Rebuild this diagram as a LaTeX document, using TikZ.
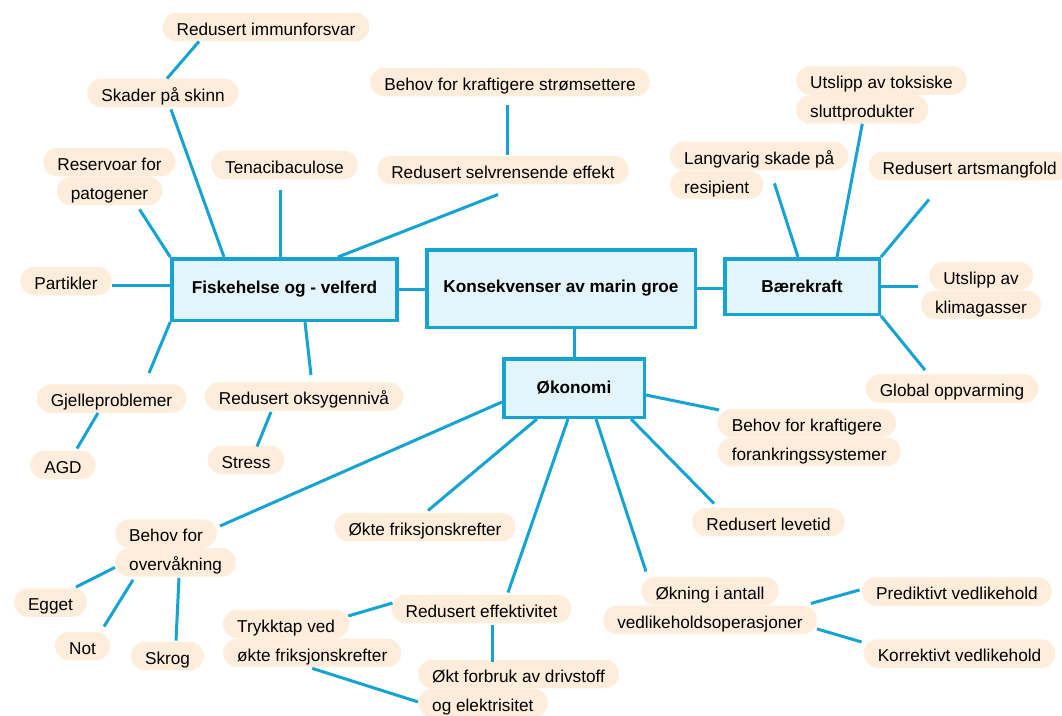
\documentclass[tikz,border=0pt]{standalone}
\usepackage{fontspec}
\setmainfont{Liberation Sans}
\usetikzlibrary{positioning}
\definecolor{groeblue}{RGB}{20,163,210}
\definecolor{groebox}{RGB}{227,244,250}
\definecolor{groepill}{RGB}{253,237,218}
\tikzset{
	pill/.style={fill=groepill, rounded corners=14pt, inner xsep=14pt, inner ysep=0pt, minimum height=28.5pt, text height=20pt, text depth=3.6pt, font=\fontsize{17.2}{20}\selectfont},
	hub/.style={draw=groeblue, line width=3.5pt, fill=groebox, font=\bfseries\fontsize{17.2}{20}\selectfont},
	link/.style={draw=groeblue, line width=3pt},
}

\begin{document}
\begin{tikzpicture}[x=1pt, y=-1pt]
		%%%%% START %%%%%
		\useasboundingbox (0, 0) rectangle (1062, 715);
		
		\node[hub, minimum width=268.5pt, minimum height=77.5pt] (cent) at (561, 288.5) {Konsekvenser av marin groe};
		\node[hub, minimum width=225pt, minimum height=61.5pt] (fisk) at (284.5, 289.5) {Fiskehelse og - velferd};
		\node[hub, minimum width=154.5pt, minimum height=55.5pt] (baer) at (802, 286.5) {Bærekraft};
		\node[hub, minimum width=140.5pt, minimum height=58.5pt] (oko) at (574, 388) {Økonomi};
		
		%%%%% FISKEHELSE %%%%%
		\node[pill] (immun) at (266, 27) {Redusert immunforsvar};
		\node[pill] (skader) at (163, 93) {Skader på skinn};
		\node[pill] (res1) at (109.5, 162) {Reservoar for};
		\node[pill, below=0pt of res1] (res2) {patogener};
		\node[pill] (tena) at (284.5, 165) {Tenacibaculose};
		\node[pill] (part) at (66, 281) {Partikler};
		\node[pill] (gjelle) at (111.5, 398.5) {Gjelleproblemer};
		\node[pill] (agd) at (63, 465) {AGD};
		\node[pill] (oksy) at (304, 396.5) {Redusert oksygennivå};
		\node[pill] (stress) at (246, 460) {Stress};
		
		\draw[link] ([xshift=-67pt]immun.south) -- ([xshift=4pt]skader.north);
		\draw[link] ([xshift=8pt, yshift=-2pt]skader.south) -- ([xshift=-60.5pt]fisk.north);
		\draw[link] ([xshift=30pt, yshift=-4pt]res2.south) -- (fisk.north west);
		\draw[link] ([xshift=-4.5pt, yshift=-11pt]tena.south) -- ([xshift=-4.5pt]fisk.north);
		\draw[link] ([yshift=-4pt]part.east) -- ([yshift=4.5pt]fisk.west);
		\draw[link] (fisk.south west) -- ([xshift=37.5pt, yshift=11pt]gjelle.north);
		\draw[link] ([xshift=-13.5pt]gjelle.south) -- ([xshift=14pt, yshift=2pt]agd.north);
		\draw[link] ([xshift=20.5pt]fisk.south) -- ([xshift=7pt, yshift=7pt]oksy.north);
		\draw[link] ([xshift=-33pt, yshift=-1pt]oksy.south) -- ([xshift=11pt, yshift=-1pt]stress.north);
		
		%%%%% MIDT %%%%%
		\node[pill] (strom) at (510, 82) {Behov for kraftigere strømsettere};
		\node[pill] (selv) at (503, 170) {Redusert selvrensende effekt};
		
		\draw[link] ([xshift=-3pt, yshift=-9pt]strom.south) -- ([xshift=4pt, yshift=1pt]selv.north);
		\draw[link] ([xshift=-5pt, yshift=-10pt]selv.south) -- ([xshift=53.5pt]fisk.north);
		\draw[link] (fisk.east) -- (fisk.east -| cent.west);
		\draw[link] (cent.east) -- (cent.east -| baer.west);
		\draw[link] (oko.north |- cent.south) -- (oko.north);
		
		%%%%% BAEREKRAFT %%%%%
		\node[pill, anchor=west] (tox1) at (796, 80.5) {Utslipp av toksiske};
		\node[pill, anchor=north west] (tox2) at (tox1.south west) {sluttprodukter};
		\node[pill, anchor=west] (lang1) at (670, 156) {Langvarig skade på};
		\node[pill, anchor=north west] (lang2) at (lang1.south west) {resipient};
		\node[pill, anchor=west] (arts) at (868.5, 166) {Redusert artsmangfold};
		\node[pill] (klim1) at (981, 276) {Utslipp av};
		\node[pill, below=0pt of klim1] (klim2) {klimagasser};
		\node[pill] (glob) at (952, 388.5) {Global oppvarming};
		
		\draw[link] ([xshift=11pt, yshift=1.5pt]lang2.east) -- ([xshift=-4pt]baer.north);
		\draw[link] (tox2.south) -- ([xshift=35pt]baer.north);
		\draw[link] ([xshift=60.5pt, yshift=-19pt]arts.south west) -- (baer.north east);
		\draw[link] (baer.east) -- ([xshift=-2.5pt]baer.east -| klim2.west);
		\draw[link] (baer.south east) -- ([xshift=-27pt, yshift=4pt]glob.north);
		
		%%%%% OKONOMI %%%%%
		\node[pill, anchor=west] (fora1) at (717.6, 423) {Behov for kraftigere};
		\node[pill, anchor=north west] (fora2) at (fora1.south west) {forankringssystemer};
		\node[pill] (leve) at (768.5, 522) {Redusert levetid};
		\node[pill] (okn1) at (710, 591) {Økning i antall};
		\node[pill, below=0pt of okn1] (okn2) {vedlikeholdsoperasjoner};
		\node[pill] (pred) at (957, 591.5) {Prediktivt vedlikehold};
		\node[pill] (korr) at (959.5, 653.5) {Korrektivt vedlikehold};
		\node[pill] (frik) at (425, 527) {Økte friksjonskrefter};
		\node[pill] (eff) at (481.5, 609) {Redusert effektivitet};
		\node[pill, anchor=west] (tryk1) at (223, 624) {Trykktap ved};
		\node[pill, anchor=north west] (tryk2) at (tryk1.south west) {økte friksjonskrefter};
		\node[pill, anchor=west] (forb1) at (418, 674) {Økt forbruk av drivstoff};
		\node[pill, anchor=north west] (forb2) at (forb1.south west) {og elektrisitet};
		\node[pill, anchor=west] (over1) at (115, 533.5) {Behov for};
		\node[pill, anchor=north west] (over2) at (over1.south west) {overvåkning};
		\node[pill] (egg) at (50.5, 602.5) {Egget};
		\node[pill] (not) at (82.5, 646) {Not};
		\node[pill] (skrog) at (167.5, 656) {Skrog};
		
		\draw[link] ([yshift=-7pt]oko.east) -- ([xshift=1.5pt, yshift=13pt]fora1.west);
		\draw[link] ([xshift=-15pt]oko.south east) -- ([xshift=-54.5pt, yshift=4pt]leve.north);
		\draw[link] ([xshift=22pt]oko.south) -- ([xshift=-64pt, yshift=5pt]okn1.north);
		\draw[link] ([xshift=-6pt, yshift=2pt]okn2.north east) -- ([xshift=-2.5pt, yshift=1.5pt]pred.west);
		\draw[link] ([yshift=-9pt]okn2.east) -- ([xshift=-2pt, yshift=11.5pt]korr.west);
		\draw[link] ([xshift=-6pt]oko.south) -- ([xshift=26.5pt, yshift=2pt]eff.north);
		\draw[link] ([xshift=-37pt]oko.south) -- ([xshift=3pt, yshift=2pt]frik.north);
		\draw[link] ([xshift=1pt, yshift=6pt]eff.west) -- ([xshift=-1pt, yshift=8pt]tryk1.east);
		\draw[link] ([xshift=10.5pt, yshift=-2pt]eff.south) -- ([xshift=74pt, yshift=-2pt]forb1.north west);
		\draw[link] ([yshift=-1pt]tryk2.south) -- ([yshift=1pt]forb2.west);
		\draw[link] ([yshift=-14pt]oko.west) -- ([xshift=3pt, yshift=7.5pt]over1.east);
		\draw[link] ([yshift=-5pt]over2.west) -- ([xshift=25.5pt, yshift=1pt]egg.north);
		\draw[link] ([xshift=18pt, yshift=-3pt]over2.south west) -- ([xshift=21.5pt, yshift=5pt]not.north);
		\draw[link] ([xshift=64pt, yshift=-1pt]over2.south west) -- ([xshift=8.5pt, yshift=1pt]skrog.north);
		
		%%%%% END %%%%%
\end{tikzpicture}
\end{document}
